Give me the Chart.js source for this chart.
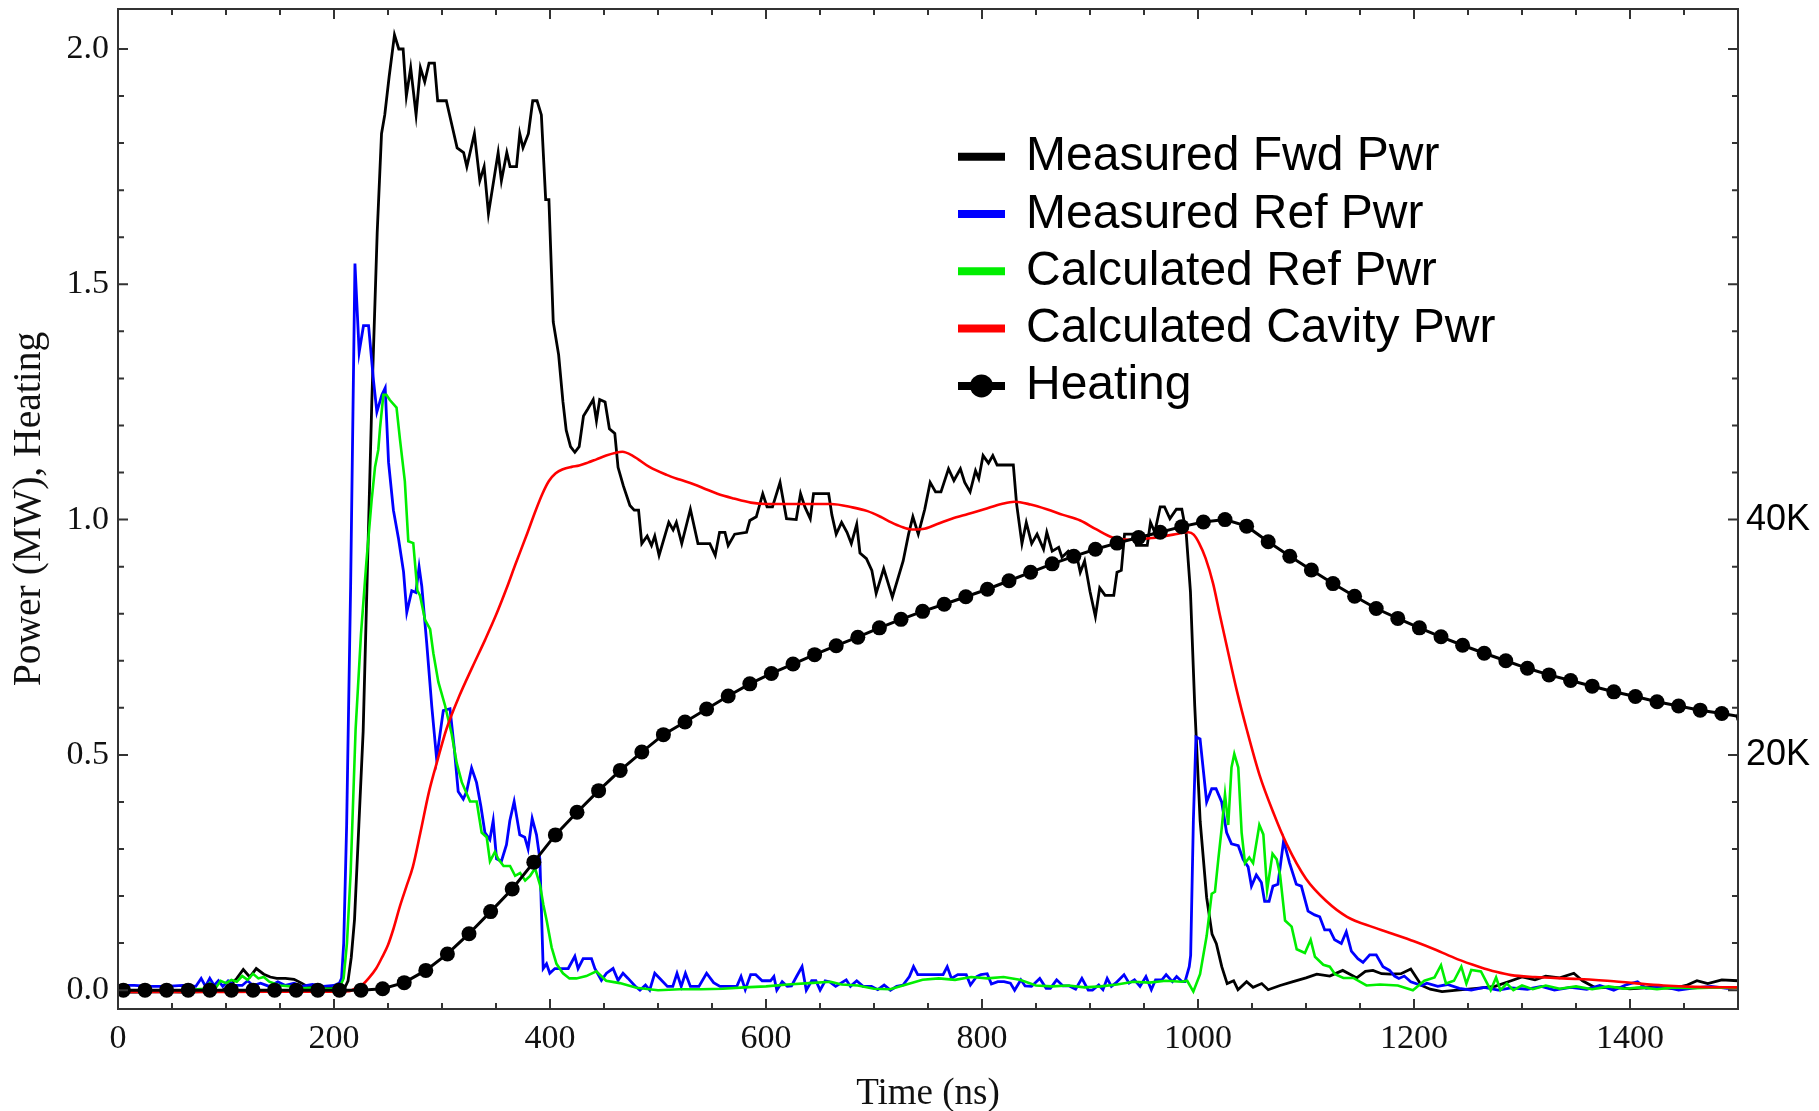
<!DOCTYPE html>
<html lang="en">
<head>
<meta charset="UTF-8">
<title>Measured and calculated RF power, cavity heating</title>
<script src="https://cdn.jsdelivr.net/npm/chart.js@4.4.1/dist/chart.umd.min.js"></script>
<style>
  html, body { margin: 0; padding: 0; background: #fff; }
  .chart-box { position: relative; width: 1819px; height: 1111px; }
</style>
</head>
<body>
<div class="chart-box"><canvas id="powerChart"></canvas></div>
<script>
// [time (ns), power (MW)]
const fwdTrace = [[0,-0.004],[20,-0.004],[40,-0.003],[60,-0.004],[80,-0.003],[95,-0.002],[102,0.007],[110,0.025],[116,0.044],[122,0.028],[128,0.046],[135,0.034],[141,0.028],[147,0.025],[155,0.025],[163,0.023],[170,0.015],[176,0.007],[185,0.005],[195,0.004],[205,0.003],[210,0.005],[213,0.02],[216,0.07],[219,0.15],[223,0.35],[227,0.55],[231,0.9],[235,1.25],[240,1.61],[244,1.82],[247,1.86],[251,1.94],[256,2.03],[260,2.0],[264,2.0],[267,1.9],[271,1.96],[276,1.86],[280,1.96],[284,1.93],[288,1.97],[293,1.97],[296,1.89],[304,1.89],[309,1.84],[314,1.79],[320,1.78],[323,1.75],[330,1.82],[335,1.72],[339,1.75],[343,1.65],[352,1.78],[355,1.72],[360,1.78],[363,1.75],[369,1.75],[372,1.82],[375,1.79],[380,1.82],[384,1.89],[388,1.89],[392,1.86],[396,1.68],[399,1.68],[403,1.42],[408,1.35],[412,1.25],[415,1.19],[419,1.155],[423,1.143],[427,1.155],[431,1.22],[435,1.235],[440,1.255],[443,1.21],[446,1.255],[451,1.25],[455,1.193],[460,1.183],[463,1.111],[468,1.071],[474,1.03],[478,1.02],[482,1.02],[485,0.949],[490,0.965],[494,0.945],[497,0.965],[501,0.924],[510,0.994],[514,0.978],[517,0.994],[522,0.949],[530,1.022],[537,0.949],[548,0.949],[553,0.924],[557,0.973],[562,0.973],[565,0.945],[571,0.969],[582,0.973],[585,0.998],[591,1.006],[597,1.055],[601,1.027],[606,1.027],[613,1.079],[619,1.002],[628,1.0],[632,1.055],[636,1.027],[641,1.002],[644,1.055],[658,1.055],[661,1.01],[665,0.969],[670,0.994],[675,0.973],[679,0.949],[684,0.99],[687,0.929],[693,0.917],[698,0.892],[702,0.843],[709,0.896],[717,0.835],[727,0.912],[732,0.969],[736,1.006],[741,0.969],[747,1.022],[752,1.079],[757,1.059],[762,1.059],[769,1.108],[774,1.083],[780,1.108],[784,1.079],[789,1.059],[794,1.104],[797,1.087],[801,1.136],[806,1.12],[810,1.136],[814,1.116],[829,1.116],[832,1.034],[837,0.949],[841,0.994],[846,0.949],[851,0.969],[857,0.937],[860,0.973],[865,0.933],[871,0.941],[874,0.92],[880,0.933],[888,0.92],[891,0.888],[895,0.912],[900,0.847],[905,0.794],[909,0.855],[914,0.839],[922,0.839],[925,0.888],[929,0.892],[932,0.969],[940,0.969],[943,0.945],[953,0.945],[956,0.994],[960,0.973],[965,1.027],[969,1.027],[974,1.002],[980,1.022],[985,1.022],[989,0.973],[993,0.847],[997,0.603],[1002,0.359],[1008,0.197],[1013,0.119],[1017,0.099],[1022,0.05],[1027,0.014],[1033,0.02],[1037,0.001],[1045,0.018],[1051,0.006],[1059,0.014],[1065,0.001],[1076,0.01],[1088,0.018],[1100,0.026],[1110,0.034],[1122,0.03],[1134,0.042],[1147,0.026],[1155,0.04],[1162,0.042],[1170,0.035],[1178,0.034],[1188,0.035],[1197,0.045],[1207,0.01],[1215,0.002],[1226,-0.003],[1240,0.0],[1258,0.004],[1275,0.008],[1290,0.02],[1300,0.028],[1312,0.022],[1322,0.03],[1335,0.026],[1348,0.036],[1356,0.02],[1368,0.005],[1385,0.006],[1400,0.003],[1420,0.006],[1440,0.004],[1452,0.01],[1462,0.02],[1472,0.014],[1485,0.022],[1500,0.02]];

const refTrace = [[0,0.01],[15,0.01],[30,0.008],[45,0.008],[60,0.01],[72,0.008],[77,0.025],[81,0.008],[85,0.025],[89,0.01],[93,0.02],[97,0.008],[102,0.02],[108,0.01],[115,0.01],[120,0.02],[125,0.01],[132,0.015],[140,0.008],[148,0.018],[155,0.01],[163,0.015],[170,0.008],[180,0.012],[190,0.008],[200,0.01],[205,0.015],[207,0.025],[209,0.1],[211.7,0.35],[215.4,0.86],[219.4,1.544],[223.3,1.356],[227.3,1.412],[232,1.412],[236.6,1.295],[239.7,1.229],[244.3,1.265],[247.4,1.28],[250.5,1.122],[255,1.02],[259.7,0.96],[264.4,0.889],[267.4,0.803],[272,0.849],[275.8,0.845],[278.8,0.899],[281.3,0.858],[285.9,0.736],[290.5,0.604],[295,0.492],[301.2,0.594],[307.4,0.598],[311.4,0.513],[315,0.422],[319.7,0.406],[322.8,0.422],[327.4,0.472],[332,0.441],[336,0.391],[339.7,0.335],[344.3,0.32],[347.4,0.36],[350.5,0.279],[355,0.274],[359.7,0.309],[362.8,0.36],[366.8,0.401],[372,0.33],[376.6,0.325],[379.7,0.3],[383.5,0.365],[387.5,0.33],[390.6,0.279],[393.7,0.046],[396.8,0.056],[399.8,0.036],[404.5,0.046],[416.9,0.046],[423,0.072],[426,0.046],[430.7,0.067],[438.4,0.067],[441.5,0.046],[447.6,0.021],[452.3,0.036],[458.4,0.046],[463,0.021],[467.6,0.036],[472.3,0.025],[478.7,0.009],[483.3,0.0],[488.4,0.011],[492.3,0.0],[497,0.036],[502.8,0.022],[508.7,0.008],[513.7,0.008],[517.6,0.036],[521.5,0.008],[525.4,0.036],[530,0.008],[537.9,0.008],[545,0.036],[551.5,0.016],[557.4,0.008],[573,0.008],[576.9,0.029],[580.8,0.001],[585.8,0.033],[590.5,0.033],[596.4,0.02],[604.2,0.02],[607.3,0.029],[610,0.0],[615,0.018],[619.7,0.008],[623.6,0.009],[628.3,0.029],[633.4,0.05],[637.3,0.0],[642.3,0.02],[646.2,0.02],[650.1,0.0],[654.8,0.02],[658.7,0.018],[664.5,0.008],[674.3,0.022],[678.2,0.008],[684,0.02],[689.9,0.008],[697.7,0.008],[703.5,0.001],[709.4,0.011],[715.2,0.0],[721,0.008],[726.9,0.011],[732.8,0.029],[736.6,0.05],[740.5,0.033],[764,0.033],[767.8,0.05],[771.7,0.025],[777.6,0.033],[785.4,0.033],[789.3,0.011],[795.1,0.029],[799,0.033],[804.8,0.035],[808.7,0.013],[814.6,0.018],[820.4,0.018],[826.3,0.015],[830.2,0.0],[836,0.022],[839.9,0.009],[845.8,0.008],[853.5,0.025],[859.4,0.004],[863.3,0.004],[869.1,0.022],[875,0.009],[880.8,0.009],[886.7,0.002],[892.5,0.025],[898.4,0.0],[902.3,0.0],[908.1,0.011],[912,0.001],[915.9,0.025],[919.8,0.008],[923.7,0.015],[931.5,0.033],[936.2,0.015],[941.2,0.022],[946.3,0.008],[951.8,0.029],[956.8,0.001],[960.7,0.022],[966.6,0.022],[970.5,0.033],[976.3,0.018],[980.2,0.029],[985.3,0.018],[988,0.018],[991.9,0.05],[993.2,0.074],[995.7,0.359],[998.1,0.538],[1001.9,0.534],[1008,0.4],[1012.7,0.428],[1016.7,0.428],[1021.9,0.4],[1026.5,0.335],[1031,0.311],[1037.3,0.307],[1041.8,0.278],[1046.4,0.262],[1049.5,0.221],[1054,0.245],[1058.7,0.229],[1061.7,0.189],[1065.8,0.189],[1069.4,0.221],[1074,0.225],[1079.3,0.318],[1084.8,0.27],[1091,0.225],[1095.7,0.221],[1101.9,0.168],[1108,0.16],[1112.7,0.156],[1117.3,0.128],[1122,0.128],[1126.5,0.107],[1132.7,0.099],[1137.3,0.124],[1142,0.083],[1148,0.067],[1152.8,0.059],[1159,0.075],[1165,0.075],[1171.3,0.05],[1177.4,0.042],[1182,0.03],[1186,0.025],[1191,0.03],[1197,0.018],[1207,0.01],[1212,0.015],[1222,0.008],[1231,0.012],[1242,0.004],[1253,0.0],[1265,0.006],[1278,0.0],[1290,0.005],[1305,0.002],[1318,0.008],[1330,0.0],[1345,0.006],[1360,0.002],[1372,0.01],[1385,0.0],[1397,0.012],[1407,0.018],[1415,0.004],[1430,0.008],[1445,0.0],[1460,0.005],[1475,0.008],[1490,0.004],[1500,0.006]];

const calcRefTrace = [[0,0.0],[30,0.0],[60,0.0],[80,0.003],[85,0.015],[90,0.003],[95,0.02],[100,0.015],[105,0.022],[110,0.018],[115,0.03],[120,0.022],[125,0.035],[130,0.025],[135,0.028],[140,0.018],[150,0.01],[160,0.008],[170,0.004],[180,0.005],[190,0.003],[200,0.003],[205,0.005],[208.9,0.025],[212,0.1],[215.4,0.249],[220,0.554],[225,0.757],[230,0.91],[234.8,1.04],[238,1.112],[241,1.148],[242.6,1.194],[245.7,1.265],[248.5,1.265],[251.7,1.254],[257.9,1.238],[261,1.172],[265.6,1.081],[268.8,0.954],[273.4,0.95],[277.2,0.849],[279.6,0.839],[284.3,0.787],[289,0.767],[292,0.716],[296.6,0.655],[302.8,0.605],[309,0.544],[313.6,0.483],[318.3,0.442],[326,0.401],[332.1,0.401],[336.7,0.335],[341.4,0.325],[344.4,0.274],[349,0.294],[352,0.279],[357,0.264],[363,0.264],[367.7,0.243],[372.3,0.249],[377,0.233],[381.6,0.243],[386.2,0.259],[390.8,0.223],[393.8,0.182],[397,0.147],[401.5,0.091],[406,0.056],[412,0.036],[418,0.025],[424.4,0.025],[433.6,0.03],[442.9,0.04],[452,0.02],[464.6,0.015],[480,0.005],[500,0.0],[520,0.002],[540,0.002],[560,0.003],[580,0.006],[600,0.008],[620,0.012],[640,0.015],[660,0.018],[670,0.012],[685,0.01],[700,0.003],[715,0.002],[730,0.012],[745,0.022],[760,0.025],[775,0.022],[790,0.028],[805,0.025],[820,0.028],[835,0.022],[850,0.01],[865,0.008],[880,0.01],[895,0.006],[910,0.008],[925,0.012],[940,0.018],[955,0.016],[970,0.02],[985,0.018],[990,0.02],[995.7,-0.003],[1001.9,0.034],[1008,0.115],[1012.7,0.205],[1015.7,0.209],[1018.8,0.278],[1021.9,0.343],[1025,0.416],[1028,0.351],[1031,0.473],[1033.6,0.502],[1037.3,0.473],[1040.4,0.335],[1043.5,0.27],[1047.5,0.282],[1051,0.27],[1056.8,0.351],[1060.5,0.331],[1064,0.213],[1069,0.29],[1072.9,0.278],[1076,0.245],[1080.6,0.148],[1086.7,0.135],[1091.4,0.087],[1099,0.079],[1104.3,0.107],[1108.3,0.071],[1116,0.054],[1122,0.05],[1126.9,0.034],[1134.6,0.026],[1143.8,0.026],[1156,0.01],[1168.5,0.012],[1185,0.01],[1199,0.0],[1209.6,0.02],[1219,0.027],[1225,0.053],[1229.6,0.014],[1237,0.02],[1243.8,0.05],[1248.5,0.014],[1253,0.043],[1262,0.04],[1271,0.0],[1276,0.027],[1280,0.0],[1286,0.014],[1292,0.0],[1300,0.01],[1310,0.002],[1322,0.01],[1335,0.003],[1350,0.008],[1365,0.002],[1380,0.008],[1395,0.003],[1410,0.006],[1425,0.002],[1440,0.006],[1460,0.004],[1480,0.006],[1500,0.005]];

const cavityTrace = [[0,-0.004],[100,-0.004],[180,-0.003],[205,-0.003],[214,-0.002],[220,0.004],[226,0.011],[232,0.025],[239,0.046],[245,0.072],[250,0.096],[255,0.13],[261,0.178],[267,0.22],[273,0.262],[280,0.335],[288,0.422],[296,0.49],[304,0.554],[316,0.625],[328,0.686],[340,0.745],[350,0.797],[360,0.855],[368,0.905],[378,0.965],[387,1.021],[393,1.055],[399,1.082],[405,1.098],[412,1.107],[420,1.112],[427,1.115],[435,1.121],[443,1.128],[452,1.136],[461,1.142],[467,1.144],[477,1.135],[492,1.112],[508,1.095],[520,1.085],[533,1.075],[545,1.064],[555,1.055],[570,1.045],[586,1.036],[600,1.033],[617,1.033],[640,1.033],[660,1.033],[680,1.026],[694,1.018],[706,1.006],[716,0.994],[725,0.985],[735,0.979],[745,0.98],[758,0.99],[772,1.002],[787,1.012],[802,1.022],[818,1.033],[830,1.038],[845,1.032],[860,1.022],[875,1.01],[891,0.998],[906,0.979],[921,0.962],[937,0.957],[958,0.961],[977,0.968],[991,0.973],[996,0.968],[1001,0.95],[1007,0.918],[1014,0.864],[1020,0.8],[1028,0.717],[1036,0.636],[1045,0.555],[1057,0.457],[1070,0.376],[1082,0.311],[1100,0.237],[1119,0.189],[1138,0.156],[1162,0.134],[1180,0.12],[1200,0.104],[1220,0.086],[1240,0.066],[1260,0.05],[1276,0.039],[1290,0.032],[1312,0.028],[1349,0.024],[1385,0.019],[1404,0.015],[1431,0.01],[1460,0.007],[1500,0.006]];

// [time (ns), heating (K)], one marker every 20 ns
const heatingTrace = [[5,0],[25,0],[45,0],[65,0],[85,0],[105,0],[125,0],[145,0],[165,0],[185,0],[205,0],[225,0],[245,120],[265,640],[285,1680],[305,3080],[325,4800],[345,6680],[365,8600],[385,10880],[405,13200],[425,15120],[445,16960],[465,18680],[485,20240],[505,21720],[525,22800],[545,23900],[565,25000],[585,26040],[605,26920],[625,27720],[645,28520],[665,29280],[685,30000],[705,30800],[725,31520],[745,32200],[765,32800],[785,33440],[805,34080],[825,34800],[845,35520],[865,36240],[885,36880],[905,37480],[925,38000],[945,38480],[965,38920],[985,39400],[1005,39800],[1025,40000],[1045,39440],[1065,38120],[1085,36880],[1105,35720],[1125,34560],[1145,33480],[1165,32440],[1185,31600],[1205,30800],[1225,30040],[1245,29320],[1265,28640],[1285,28000],[1305,27360],[1325,26800],[1345,26320],[1365,25840],[1385,25360],[1405,24960],[1425,24520],[1445,24160],[1465,23800],[1485,23520],[1505,23200]];

const seriesNames = ['Measured Fwd Pwr', 'Measured Ref Pwr', 'Calculated Ref Pwr', 'Calculated Cavity Pwr', 'Heating'];
const timeTicks = [0, 200, 400, 600, 800, 1000, 1200, 1400];
const powerTicks = [0, 0.5, 1.0, 1.5, 2.0];
const heatingTicks = [20000, 40000];

const timeMax = 1500;
const powerMin = -0.04, powerMax = 2.085;
const kelvinPerMW = 40000; // 40K sits level with 1.0 MW

const toPoints = trace => trace.map(([x, y]) => ({ x, y }));

// frame, inward tick marks and the legend box
const frameAndLegend = {
    id: 'frameAndLegend',
    afterDatasetsDraw(chart) {
        const { ctx, chartArea: a, scales } = chart;
        ctx.save();
        ctx.strokeStyle = '#333';
        ctx.lineWidth = 2;
        ctx.strokeRect(a.left, a.top, a.right - a.left, a.bottom - a.top);

        ctx.beginPath();
        for (let t = 0; t <= timeMax; t += 50) {
            const px = scales.x.getPixelForValue(t);
            const len = t % 200 === 0 ? 10 : 6;
            ctx.moveTo(px, a.bottom); ctx.lineTo(px, a.bottom - len);
            ctx.moveTo(px, a.top); ctx.lineTo(px, a.top + len);
        }
        for (let i = 0; i <= 20; i++) {
            const py = scales.y.getPixelForValue(i / 10);
            ctx.moveTo(a.left, py); ctx.lineTo(a.left + (i % 5 === 0 ? 10 : 6), py);
        }
        for (let k = 0; k <= 80000; k += 4000) {
            const py = scales.y2.getPixelForValue(k);
            ctx.moveTo(a.right, py); ctx.lineTo(a.right - (k % 20000 === 0 ? 10 : 6), py);
        }
        ctx.stroke();

        // legend
        const x0 = 958, x1 = 1005, textX = 1026;
        ctx.font = '48px "Liberation Sans", Arial, sans-serif';
        ctx.textAlign = 'left';
        ctx.textBaseline = 'alphabetic';
        chart.data.datasets.forEach((ds, i) => {
            const cy = 156.7 + i * 57.3;
            ctx.strokeStyle = ds.borderColor;
            ctx.lineWidth = 8;
            ctx.beginPath();
            ctx.moveTo(x0, cy); ctx.lineTo(x1, cy);
            ctx.stroke();
            if (ds.pointRadius > 0) {
                ctx.fillStyle = ds.borderColor;
                ctx.beginPath();
                ctx.arc((x0 + x1) / 2, cy, 11.5, 0, Math.PI * 2);
                ctx.fill();
            }
            ctx.fillStyle = '#000';
            ctx.fillText(ds.label, textX, cy + 13.5);
        });
        ctx.restore();
    }
};

const serif = '"Liberation Serif", "Times New Roman", serif';
const sans = '"Liberation Sans", Arial, sans-serif';

// keep the plot box fixed: no overhang padding for end labels
const noOverhang = s => { s.paddingTop = 0; s.paddingBottom = 0; s.paddingLeft = 0; s.paddingRight = 0; };

new Chart(document.getElementById('powerChart'), {
    type: 'line',
    data: {
        datasets: [
            { label: seriesNames[0], data: toPoints(fwdTrace), borderColor: '#000000', borderWidth: 2.8, order: 5 },
            { label: seriesNames[1], data: toPoints(refTrace), borderColor: '#0000ff', borderWidth: 2.8, order: 4 },
            { label: seriesNames[2], data: toPoints(calcRefTrace), borderColor: '#00ee00', borderWidth: 2.6, order: 3 },
            { label: seriesNames[3], data: toPoints(cavityTrace), borderColor: '#ff0000', borderWidth: 2.6, order: 2, cubicInterpolationMode: 'monotone' },
            { label: seriesNames[4], data: toPoints(heatingTrace), yAxisID: 'y2', borderColor: '#000000', borderWidth: 3,
              pointRadius: 7.5, pointBackgroundColor: '#000000', pointBorderWidth: 0, order: 1 }
        ].map(ds => Object.assign({ pointRadius: 0, tension: 0, clip: 0, fill: false }, ds))
    },
    options: {
        responsive: true,
        maintainAspectRatio: false,
        animation: false,
        layout: { padding: { top: 9, left: 0, right: 0, bottom: 0 } },
        plugins: { legend: { display: false }, tooltip: { enabled: false } },
        scales: {
            x: {
                type: 'linear', min: 0, max: timeMax,
                grid: { display: false, drawTicks: false }, border: { display: false },
                afterBuildTicks: s => { s.ticks = timeTicks.map(v => ({ value: v })); },
                afterFit: s => { s.height = 102; noOverhang(s); },
                ticks: { autoSkip: false, maxRotation: 0, padding: 10, color: '#111', font: { family: serif, size: 34 },
                         callback: v => String(v) },
                title: { display: true, text: 'Time (ns)', color: '#111', font: { family: serif, size: 37, lineHeight: 1 }, padding: { top: 0, bottom: -1.5 } }
            },
            y: {
                type: 'linear', position: 'left', min: powerMin, max: powerMax,
                grid: { display: false, drawTicks: false }, border: { display: false },
                afterBuildTicks: s => { s.ticks = powerTicks.map(v => ({ value: v })); },
                afterFit: s => { s.width = 118; noOverhang(s); },
                ticks: { autoSkip: false, padding: 9, color: '#111', font: { family: serif, size: 34 },
                         callback: v => v.toFixed(1) },
                title: { display: true, text: 'Power (MW), Heating', color: '#111', font: { family: serif, size: 39.5, lineHeight: 1 }, padding: { top: 10, bottom: 0 } }
            },
            y2: {
                type: 'linear', position: 'right', min: powerMin * kelvinPerMW, max: powerMax * kelvinPerMW,
                grid: { display: false, drawTicks: false }, border: { display: false },
                afterBuildTicks: s => { s.ticks = heatingTicks.map(v => ({ value: v })); },
                afterFit: s => { s.width = 81; noOverhang(s); },
                ticks: { autoSkip: false, padding: 8, color: '#000', font: { family: sans, size: 36 },
                         callback: v => (v / 1000) + 'K' }
            }
        }
    },
    plugins: [frameAndLegend]
});
</script>
</body>
</html>
